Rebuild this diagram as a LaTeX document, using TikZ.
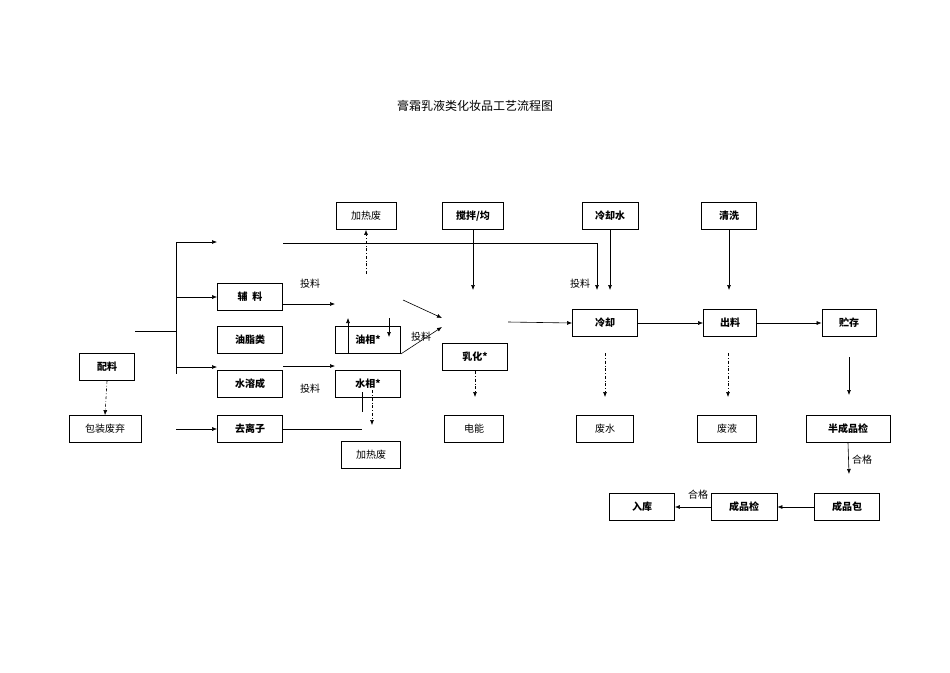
\documentclass[tikz,border=0pt]{standalone}
\usepackage{fontspec}
\newfontfamily\cjk{Noto Sans CJK SC}
\usetikzlibrary{arrows.meta}
\begin{document}
\begin{tikzpicture}[x=1pt,y=-1pt,
  bx/.style={draw,line width=0.8pt,minimum height=27pt,inner sep=0pt,font=\cjk\bfseries\fontsize{10}{12}\selectfont},
  lb/.style={font=\cjk\fontsize{10}{12}\selectfont},
  ar/.style={-{Latex[length=5pt,width=4pt]},line width=0.6pt},
  da/.style={ar,dash dot,dash pattern=on 3pt off 2pt on 0.6pt off 2pt}]
\useasboundingbox (0,0) rectangle (950,672);
\node[lb,font=\cjk\fontsize{12}{14}\selectfont] (title) at (475,106) {膏霜乳液类化妆品工艺流程图};
\node[bx,lb,minimum width=60pt] (jrf1) at (366,216) {加热废};
\node[bx,minimum width=61pt] (jb) at (473,216) {搅拌/均};
\node[bx,minimum width=56pt] (lqs) at (610,216) {冷却水};
\node[bx,minimum width=55pt] (qx) at (729,216) {清洗};
\node[bx,minimum width=65pt] (fl) at (250,297) {辅\ \ 料};
\node[bx,minimum width=65pt] (yzl) at (250,340) {油脂类};
\node[bx,minimum width=65pt] (srs) at (250,384) {水溶成};
\node[bx,minimum width=65pt] (qlz) at (250,429) {去离子};
\node[bx,minimum width=55pt] (pl) at (107,367) {配料};
\node[bx,lb,minimum width=72pt] (bzfq) at (105,429) {包装废弃};
\node[bx,minimum width=65pt] (yx) at (368,340) {油相*};
\node[bx,minimum width=65pt] (sx) at (368,384) {水相*};
\node[bx,lb,minimum width=59pt] (jrf2) at (371,455) {加热废};
\node[bx,minimum width=65pt] (rh) at (475,357) {乳化*};
\node[bx,lb,minimum width=59pt] (dn) at (474,429) {电能};
\node[bx,minimum width=65pt] (lq) at (605,323) {冷却};
\node[bx,minimum width=53pt] (cl) at (730,323) {出料};
\node[bx,minimum width=54pt] (zc) at (849,323) {贮存};
\node[bx,lb,minimum width=57pt] (fs) at (605,429) {废水};
\node[bx,lb,minimum width=59pt] (fy) at (727,429) {废液};
\node[bx,minimum width=84pt] (bcp) at (848,429) {半成品检};
\node[bx,minimum width=65pt] (rk) at (642,507) {入库};
\node[bx,minimum width=66pt] (cpj) at (744,507) {成品检};
\node[bx,minimum width=65pt] (cpb) at (847,507) {成品包};
% labels
\node[lb] (t1) at (310,284) {投料};
\node[lb] (t2) at (421,337) {投料};
\node[lb] (t3) at (310,389) {投料};
\node[lb] (t4) at (580,284) {投料};
\node[lb] (h1) at (862,460) {合格};
\node[lb] (h2) at (698,495) {合格};
% coordinates
\coordinate (a0) at (135,331); \coordinate (a1) at (176,331);
\coordinate (vt) at (176,242); \coordinate (vb) at (176,374);
\draw[line width=0.6pt] (a0) -- (a1) (vt) -- (vb);
\draw[ar] (vt) -- (217,242);
\draw[ar] (176,297) -- (fl.west);
\draw[ar] (176,367) -- (217,367);
\draw[ar] (176,429) -- (qlz.west);
\draw[da] (pl.south) -- (bzfq.north);
\draw[line width=0.6pt,-{Latex[length=5pt,width=4pt]}] (283,243) -- (597,243) -- (597,290);
\draw[ar] (283,304) -- (335,304);
\draw[ar] (283,366) -- (335,366);
\draw[line width=0.6pt] (qlz.east) -- (362,429);
\draw[line width=0.6pt] (362,392) -- (362,412);
\draw[da] (372,390) -- (372,425);
\draw[da] (366,274) -- (jrf1.south);
\draw[ar] (jb.south) -- (473,290);
\draw[ar] (403,300) -- (442,318);
\draw[ar] (yx.south east) -- (442,327);
\draw[ar] (348,353) -- (348,318);
\draw[ar] (389,318) -- (389,337);
\draw[da] (rh.south) -- (475,397);
\draw[ar] (508,322) -- (lq.west);
\draw[ar] (lq) -- (cl);
\draw[ar] (cl) -- (zc);
\draw[ar] (lqs.south) -- (610,290);
\draw[ar] (qx.south) -- (729,290);
\draw[da] (605,353) -- (605,397);
\draw[da] (728,353) -- (728,397);
\draw[ar] (849,357) -- (849,395);
\draw[ar] (bcp.south) -- (849,474);
\draw[ar] (cpb) -- (cpj);
\draw[ar] (cpj) -- (rk);
\end{tikzpicture}
\end{document}
